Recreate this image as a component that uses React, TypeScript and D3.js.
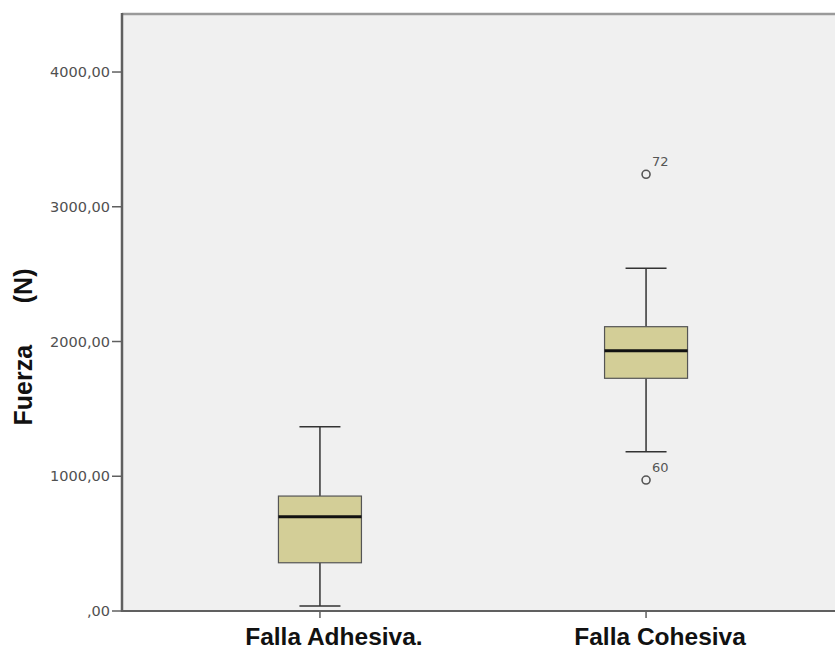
import React from "react";
import * as d3 from "d3";

const categories = ["Falla Adhesiva.", "Falla Cohesiva"];
const whiskerLow = [37, 1182];
const q1 = [358, 1727];
const median = [700, 1932];
const q3 = [853, 2110];
const whiskerHigh = [1368, 2543];
const outlierCat = ["Falla Cohesiva", "Falla Cohesiva"];
const outlierValue = [3241, 972];
const outlierLabel = ["72", "60"];
const yTicks = [0, 1000, 2000, 3000, 4000];
const yTickLabels = [",00", "1000,00", "2000,00", "3000,00", "4000,00"];
const yTitle = "Fuerza      (N)";

const W = 835;
const H = 649;
const left = 122;
const right = 844;
const top = 13;
const bottom = 611;

export default function App() {
  const y = d3.scaleLinear().domain([0, 4438]).range([bottom, top]);
  const x = d3.scalePoint<string>().domain(categories).range([left, right]).padding(0.607);
  const boxW = 83;
  const capW = 41;

  return (
    <svg width={W} height={H} style={{ position: "absolute", left: 0, top: 0, background: "#fff" }}>
      <rect x={left} y={top} width={right - left} height={bottom - top} fill="#f0f0f0" />
      <line x1={left} x2={right} y1={top + 1} y2={top + 1} stroke="#9a9a9a" strokeWidth={2.5} />
      {categories.map((c, i) => {
        const cx = x(c)!;
        return (
          <g key={c}>
            <line x1={cx} x2={cx} y1={y(whiskerLow[i])} y2={y(q1[i])} stroke="#333" strokeWidth={1.5} />
            <line x1={cx} x2={cx} y1={y(q3[i])} y2={y(whiskerHigh[i])} stroke="#333" strokeWidth={1.5} />
            <line x1={cx - capW / 2} x2={cx + capW / 2} y1={y(whiskerLow[i])} y2={y(whiskerLow[i])} stroke="#333" strokeWidth={1.5} />
            <line x1={cx - capW / 2} x2={cx + capW / 2} y1={y(whiskerHigh[i])} y2={y(whiskerHigh[i])} stroke="#333" strokeWidth={1.5} />
            <rect x={cx - boxW / 2} y={y(q3[i])} width={boxW} height={y(q1[i]) - y(q3[i])} fill="#d3ce97" stroke="#555" strokeWidth={1.2} />
            <line x1={cx - boxW / 2} x2={cx + boxW / 2} y1={y(median[i])} y2={y(median[i])} stroke="#111" strokeWidth={3} />
          </g>
        );
      })}
      {outlierValue.map((v, i) => {
        const cx = x(outlierCat[i])!;
        const cy = y(v);
        return (
          <g key={i}>
            <circle cx={cx} cy={cy} r={4} fill="none" stroke="#555" strokeWidth={1.6} />
            <text x={cx + 6} y={cy - 8.5} fontFamily="DejaVu Sans" fontSize={13} fill="#555">{outlierLabel[i]}</text>
          </g>
        );
      })}
      {/* axes */}
      <line x1={left} x2={left} y1={top} y2={bottom + 1} stroke="#606060" strokeWidth={2.5} />
      <line x1={left} x2={right} y1={bottom} y2={bottom} stroke="#606060" strokeWidth={2} />
      {yTicks.map((t, i) => (
        <g key={t}>
          <line x1={left - 10} x2={left} y1={y(t)} y2={y(t)} stroke="#606060" strokeWidth={1.5} />
          <text x={left - 12} y={y(t)} dy="0.35em" textAnchor="end" fontFamily="DejaVu Sans" fontSize={14.5} fill="#505050">{yTickLabels[i]}</text>
        </g>
      ))}
      {categories.map((c) => (
        <g key={c}>
          <line x1={x(c)!} x2={x(c)!} y1={bottom} y2={bottom + 7} stroke="#606060" strokeWidth={1.5} />
          <text x={x(c)! + 14} y={645} textAnchor="middle" fontFamily="Liberation Sans" fontWeight="bold" fontSize={24.5} fill="#111">{c}</text>
        </g>
      ))}
      <text transform={`translate(32,347) rotate(-90)`} textAnchor="middle" fontFamily="Liberation Sans" fontWeight="bold" fontSize={25} fill="#111" style={{ whiteSpace: "pre" }}>{yTitle}</text>
    </svg>
  );
}
